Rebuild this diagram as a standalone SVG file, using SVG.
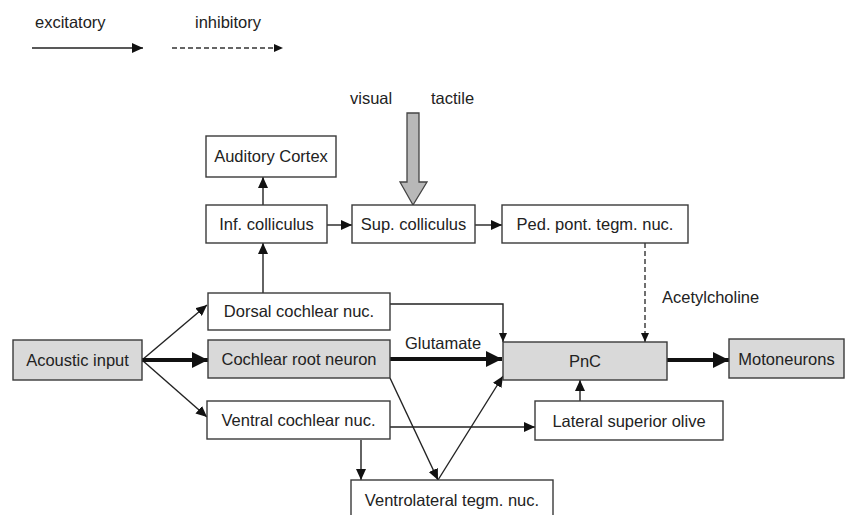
<svg xmlns="http://www.w3.org/2000/svg" width="848" height="515" viewBox="0 0 848 515">
<style>
text{font-family:"Liberation Sans",Arial,sans-serif;font-size:16.5px;fill:#222}
.box rect{fill:#fff;stroke:#3a3a3a;stroke-width:1.4}
.box.g rect{fill:#d9d9d9}
.box text{text-anchor:middle}
.c{fill:none;stroke:#222;stroke-width:1.4}
.t{fill:none;stroke:#111;stroke-width:4}
.d{fill:none;stroke:#333;stroke-width:1.4;stroke-dasharray:5 3}
</style>
<defs>
<marker id="a" markerUnits="userSpaceOnUse" markerWidth="12" markerHeight="10" refX="11" refY="5" orient="auto"><path d="M0,0L11,5L0,10z" fill="#111"/></marker>
<marker id="s" markerUnits="userSpaceOnUse" markerWidth="10" markerHeight="8" refX="9" refY="4" orient="auto"><path d="M0,0L9,4L0,8z" fill="#111"/></marker>
<marker id="T" markerUnits="userSpaceOnUse" markerWidth="17" markerHeight="16" refX="16" refY="8" orient="auto"><path d="M0,0L16,8L0,16z" fill="#111"/></marker>
</defs>
<g id="legend">
<text x="35" y="28">excitatory</text>
<text x="195" y="28">inhibitory</text>
<line class="c" x1="32" y1="48" x2="143" y2="48" marker-end="url(#a)"/>
<line class="d" x1="172" y1="48" x2="283" y2="48" marker-end="url(#s)"/>
</g>
<g id="sensory">
<text x="350" y="104">visual</text>
<text x="431" y="104">tactile</text>
<path d="M407,113H419V182H427L413,205L400,182H407Z" fill="#b8b8b8" stroke="#444" stroke-width="1.3"/>
</g>
<g id="connectors">
<line class="c" x1="263" y1="205" x2="263" y2="177" marker-end="url(#a)"/>
<line class="c" x1="263" y1="293" x2="263" y2="243" marker-end="url(#a)"/>
<line class="c" x1="327" y1="225" x2="352" y2="225" marker-end="url(#a)"/>
<line class="c" x1="475" y1="225" x2="502" y2="225" marker-end="url(#a)"/>
<line class="d" x1="645" y1="243" x2="645" y2="342" marker-end="url(#s)"/>
<polyline class="c" points="390,304 503,304 503,342" marker-end="url(#s)"/>
<line class="c" x1="142" y1="360" x2="207" y2="305" marker-end="url(#a)"/>
<line class="c" x1="142" y1="360" x2="207" y2="417" marker-end="url(#a)"/>
<line class="t" x1="142" y1="360" x2="208" y2="360" marker-end="url(#T)"/>
<line class="t" x1="390" y1="359" x2="502" y2="359" marker-end="url(#T)"/>
<line class="t" x1="667" y1="360" x2="729" y2="360" marker-end="url(#T)"/>
<line class="c" x1="390" y1="427" x2="535" y2="427" marker-end="url(#a)"/>
<line class="c" x1="361" y1="440" x2="361" y2="480" marker-end="url(#a)"/>
<line class="c" x1="390" y1="378" x2="438" y2="480" marker-end="url(#a)"/>
<line class="c" x1="438" y1="480" x2="503" y2="376" marker-end="url(#a)"/>
<line class="c" x1="580" y1="401" x2="580" y2="380" marker-end="url(#a)"/>
<text x="405" y="349">Glutamate</text>
<text x="662" y="303">Acetylcholine</text>
</g>
<g id="auditory-cortex" class="box"><rect x="206" y="136" width="130" height="41"/><text x="271" y="162">Auditory Cortex</text></g>
<g id="inf-colliculus" class="box"><rect x="206" y="205" width="121" height="38"/><text x="266.5" y="230">Inf. colliculus</text></g>
<g id="sup-colliculus" class="box"><rect x="352" y="205" width="123" height="38"/><text x="413.5" y="230">Sup. colliculus</text></g>
<g id="ped-pont" class="box"><rect x="502" y="205" width="186" height="38"/><text x="595" y="230">Ped. pont. tegm. nuc.</text></g>
<g id="dorsal-cochlear" class="box"><rect x="208" y="293" width="182" height="37"/><text x="299" y="317">Dorsal cochlear nuc.</text></g>
<g id="acoustic-input" class="box g"><rect x="13" y="340" width="129" height="40"/><text x="77.5" y="366">Acoustic input</text></g>
<g id="cochlear-root" class="box g"><rect x="208" y="340" width="182" height="38"/><text x="299" y="365">Cochlear root neuron</text></g>
<g id="pnc" class="box g"><rect x="503" y="342" width="164" height="38"/><text x="585" y="367">PnC</text></g>
<g id="motoneurons" class="box g"><rect x="729" y="339" width="115" height="39"/><text x="786.5" y="365">Motoneurons</text></g>
<g id="ventral-cochlear" class="box"><rect x="207" y="401" width="183" height="38"/><text x="298.5" y="426">Ventral cochlear nuc.</text></g>
<g id="lateral-superior-olive" class="box"><rect x="535" y="401" width="188" height="39"/><text x="629" y="427">Lateral superior olive</text></g>
<g id="ventrolateral-tegm" class="box"><rect x="351" y="480" width="202" height="45"/><text x="452" y="506">Ventrolateral tegm. nuc.</text></g>
</svg>
